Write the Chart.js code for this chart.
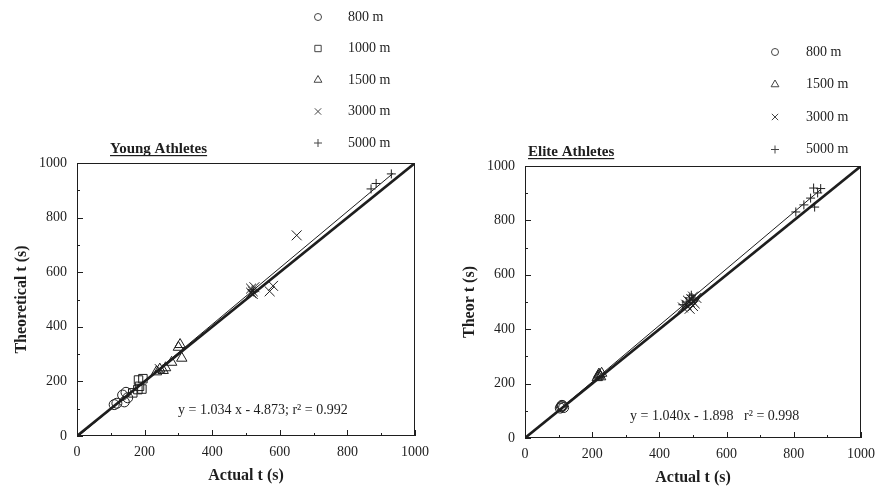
<!DOCTYPE html>
<html>
<head>
<meta charset="utf-8">
<script src="https://cdn.jsdelivr.net/npm/chart.js@4.4.1/dist/chart.umd.min.js"></script>
<style>
  html, body { margin: 0; padding: 0; background: #fff; }
  #wrap { position: relative; width: 883px; height: 489px; overflow: hidden; }
  canvas { position: absolute; top: 0; }
  #young { left: 0; }
  #elite { left: 440px; }
</style>
</head>
<body>
<div id="wrap">
  <canvas id="young" width="440" height="489"></canvas>
  <canvas id="elite" width="443" height="489"></canvas>
</div>
<script>
// Actual vs theoretical race times (s)

// --- Young athletes ---
const young800 = [
  {x: 110, y: 115}, {x: 118, y: 120}, {x: 135, y: 150},
  {x: 140, y: 125}, {x: 145, y: 160}, {x: 150, y: 140}
];
const young1000 = [
  {x: 165, y: 158}, {x: 180, y: 170}, {x: 185, y: 182},
  {x: 182, y: 205}, {x: 195, y: 210}, {x: 192, y: 172}
];
const young1500 = [
  {x: 235, y: 235}, {x: 245, y: 245}, {x: 255, y: 240}, {x: 262, y: 250},
  {x: 280, y: 270}, {x: 300, y: 325}, {x: 305, y: 335}, {x: 310, y: 285}
];
const young3000 = [
  {x: 245, y: 245}, {x: 515, y: 540}, {x: 520, y: 530}, {x: 525, y: 545},
  {x: 520, y: 520}, {x: 515, y: 525}, {x: 570, y: 530}, {x: 580, y: 550},
  {x: 650, y: 735}
];
const young5000 = [
  {x: 518, y: 535}, {x: 522, y: 528}, {x: 870, y: 905}, {x: 885, y: 925},
  {x: 930, y: 960}
];
const youngFit = {slope: 1.034, intercept: -4.873, from: 5, to: 935};
const youngEquation = 'y = 1.034 x - 4.873; r\u00B2 = 0.992';

// --- Elite athletes ---
const elite800 = [
  {x: 105, y: 110}, {x: 108, y: 115}, {x: 112, y: 118}, {x: 115, y: 112}, {x: 110, y: 120}
];
const elite1500 = [
  {x: 215, y: 222}, {x: 218, y: 228}, {x: 222, y: 232},
  {x: 225, y: 225}, {x: 228, y: 238}, {x: 220, y: 235}
];
const elite3000 = [
  {x: 470, y: 480}, {x: 480, y: 490}, {x: 490, y: 500}, {x: 495, y: 510},
  {x: 500, y: 520}, {x: 505, y: 495}, {x: 490, y: 475}, {x: 500, y: 485},
  {x: 485, y: 505}, {x: 510, y: 515}
];
const elite5000 = [
  {x: 470, y: 490}, {x: 480, y: 500}, {x: 490, y: 515}, {x: 495, y: 525}, {x: 500, y: 510},
  {x: 806, y: 831}, {x: 830, y: 857}, {x: 850, y: 882}, {x: 871, y: 901},
  {x: 859, y: 919}, {x: 880, y: 917}, {x: 862, y: 849}
];
const eliteFit = {slope: 1.040, intercept: -1.898, from: 2, to: 880};
const eliteEquation = 'y = 1.040x - 1.898   r\u00B2 = 0.998';

// Shared axis range and tick labels
const axisMin = 0, axisMax = 1000, minorStep = 100;
const tickLabels = ['0', '200', '400', '600', '800', '1000'];

const INK = '#1e1e1e';
const SERIF = '"Liberation Serif", "Times New Roman", serif';

function fitLine(fit) {
  return [
    {x: fit.from, y: fit.slope * fit.from + fit.intercept},
    {x: fit.to, y: fit.slope * fit.to + fit.intercept}
  ];
}
const identity = [{x: axisMin, y: axisMin}, {x: axisMax, y: axisMax}];

function markers(label, data, style, radius) {
  return {
    label, data, key: true,
    pointStyle: style, pointRadius: radius, pointHoverRadius: radius,
    pointBorderWidth: 1, borderColor: INK,
    pointBackgroundColor: 'rgba(0,0,0,0)', backgroundColor: 'rgba(0,0,0,0)',
    showLine: false, keyRadius: {circle: 3.5, rect: 4.5, triangle: 4.5, crossRot: 4.5, cross: 4}[style]
  };
}
function line(data, width) {
  return {
    label: '', data, showLine: true, borderColor: INK, borderWidth: width,
    pointRadius: 0, pointHoverRadius: 0, fill: false
  };
}

// Frame, inward ticks, panel heading, equation and symbol key
const panelDecor = {
  id: 'panelDecor',
  afterDraw(chart, args, o) {
    const {ctx, chartArea: a} = chart;
    const xs = chart.scales.x, ys = chart.scales.y;
    ctx.save();
    ctx.strokeStyle = INK;
    ctx.lineWidth = 1;
    ctx.strokeRect(a.left + 0.5, a.top + 0.5, a.right - a.left - 1, a.bottom - a.top - 1);
    ctx.beginPath();
    xs.ticks.forEach(t => {
      const px = Math.round(xs.getPixelForValue(t.value)) + 0.5;
      const len = t.value % 200 === 0 ? 6 : 3;
      ctx.moveTo(px, a.bottom);
      ctx.lineTo(px, a.bottom - len);
    });
    ys.ticks.forEach(t => {
      const py = Math.round(ys.getPixelForValue(t.value)) + 0.5;
      const len = t.value % 200 === 0 ? 6 : 3;
      ctx.moveTo(a.left, py);
      ctx.lineTo(a.left + len, py);
    });
    ctx.stroke();

    // heading
    ctx.fillStyle = INK;
    ctx.font = 'bold 15px ' + SERIF;
    ctx.textBaseline = 'alphabetic';
    ctx.textAlign = 'left';
    ctx.fillText(o.heading, o.headingX, o.headingY);
    const w = ctx.measureText(o.heading).width;
    ctx.fillRect(o.headingX, o.headingY + 2, w, 1.2);

    // regression equation
    ctx.font = '14px ' + SERIF;
    ctx.textBaseline = 'middle';
    ctx.fillText(o.equation, o.eqX, o.eqY);

    // symbol key
    let row = 0;
    chart.data.datasets.forEach(ds => {
      if (!ds.key) return;
      const y = o.keyY + row * o.keyDy;
      ctx.lineWidth = 1;
      ctx.strokeStyle = '#444';
      ctx.fillStyle = 'rgba(0,0,0,0)';
      Chart.helpers.drawPoint(ctx, {pointStyle: ds.pointStyle, radius: ds.keyRadius, rotation: 0, borderWidth: 1}, o.keyX, y);
      ctx.fillStyle = INK;
      ctx.font = '14px ' + SERIF;
      ctx.fillText(ds.label, o.keyTextX, y);
      row++;
    });
    ctx.restore();
  }
};

function axis(title, axisWidthOrHeight, horizontal, titlePad, tickPad) {
  return {
    type: 'linear', min: axisMin, max: axisMax,
    grid: {display: false, drawTicks: false},
    border: {display: false},
    ticks: {
      stepSize: minorStep, autoSkip: false, padding: tickPad, maxRotation: 0,
      color: INK, font: {family: SERIF, size: 14},
      callback: v => tickLabels.includes(String(v)) ? String(v) : ''
    },
    title: {
      display: true, text: title, color: INK,
      font: {family: SERIF, size: 16, weight: 'bold'},
      padding: titlePad
    },
    afterFit: s => { if (horizontal) s.height = axisWidthOrHeight; else s.width = axisWidthOrHeight; }
  };
}

function panel(canvasId, sets, fit, cfg) {
  return new Chart(document.getElementById(canvasId), {
    type: 'scatter',
    data: {
      datasets: [
        ...sets,
        line(fitLine(fit), 1),
        line(identity, 2.6)
      ]
    },
    options: {
      responsive: false,
      animation: false,
      layout: {padding: cfg.padding},
      plugins: {legend: {display: false}, tooltip: {enabled: false}, panelDecor: cfg.decor},
      scales: {
        x: axis('Actual t (s)', cfg.xHeight, true, cfg.xTitlePad, 8),
        y: axis(cfg.yTitle, cfg.yWidth, false, cfg.yTitlePad, 10)
      }
    },
    plugins: [panelDecor]
  });
}

panel('young', [
  markers('800 m', young800, 'circle', 5),
  markers('1000 m', young1000, 'rect', 6),
  markers('1500 m', young1500, 'triangle', 6),
  markers('3000 m', young3000, 'crossRot', 7),
  markers('5000 m', young5000, 'cross', 4.5)
], youngFit, {
  padding: {left: 0, right: 25, top: 163, bottom: 0},
  xHeight: 53, yWidth: 77,
  xTitlePad: {top: 0, bottom: 4}, yTitlePad: {top: 12, bottom: 0},
  yTitle: 'Theoretical t (s)',
  decor: {
    heading: 'Young Athletes', headingX: 110, headingY: 153,
    equation: youngEquation, eqX: 178, eqY: 410,
    keyX: 318, keyTextX: 348, keyY: 17, keyDy: 31.5
  }
});

panel('elite', [
  markers('800 m', elite800, 'circle', 5),
  markers('1500 m', elite1500, 'triangle', 6),
  markers('3000 m', elite3000, 'crossRot', 7),
  markers('5000 m', elite5000, 'cross', 4.5)
], eliteFit, {
  padding: {left: 0, right: 17, top: 166, bottom: 0},
  xHeight: 51, yWidth: 85,
  xTitlePad: {top: 0, bottom: 2}, yTitlePad: {top: 20, bottom: 0},
  yTitle: 'Theor t (s)',
  decor: {
    heading: 'Elite Athletes', headingX: 88, headingY: 156,
    equation: eliteEquation, eqX: 190, eqY: 416,
    keyX: 335, keyTextX: 366, keyY: 52, keyDy: 32.5
  }
});
</script>
</body>
</html>
